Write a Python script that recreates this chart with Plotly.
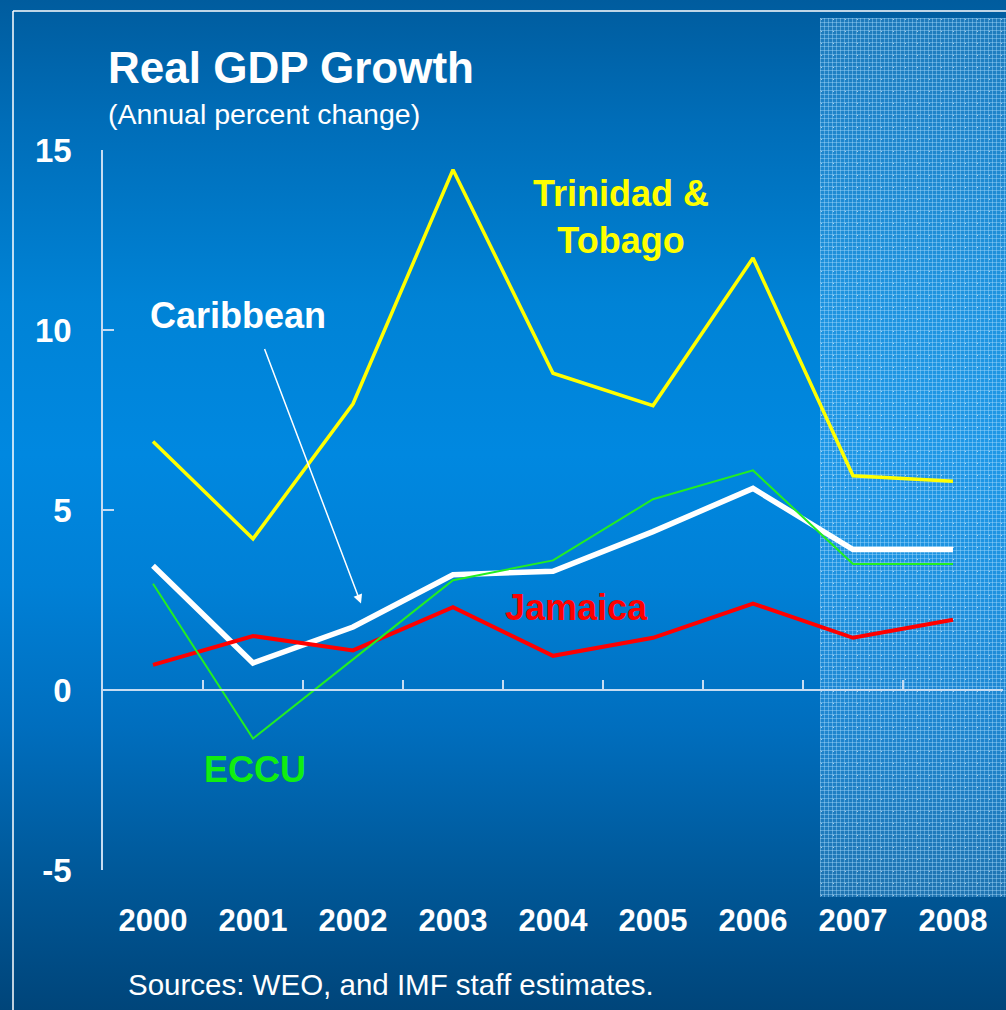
import base64
import plotly.graph_objects as go

# ---- data -------------------------------------------------------------
years = ["2000", "2001", "2002", "2003", "2004", "2005", "2006", "2007", "2008"]
trinidad_tobago = [6.9, 4.2, 7.95, 14.45, 8.8, 7.9, 12.0, 5.95, 5.8]
caribbean = [3.45, 0.75, 1.75, 3.2, 3.3, 4.4, 5.6, 3.9, 3.9]
jamaica = [0.7, 1.5, 1.1, 2.3, 0.95, 1.45, 2.4, 1.45, 1.95]
eccu = [2.95, -1.35, 0.85, 3.05, 3.6, 5.3, 6.1, 3.5, 3.5]
y_ticks = [-5, 0, 5, 10, 15]

W, H = 1006, 1010
FONT = "Liberation Sans, Arial, sans-serif"
AXIS_COLOR = "#c6dcf2"

idx = list(range(len(years)))
boundaries = [i - 0.5 for i in range(len(years) + 1)]


def svg_uri(svg):
    return "data:image/svg+xml;base64," + base64.b64encode(svg.encode()).decode()


# vertical blue gradient for the page background
bg_svg = (
    f'<svg xmlns="http://www.w3.org/2000/svg" width="{W}" height="{H}" '
    f'viewBox="0 0 {W} {H}" preserveAspectRatio="none">'
    '<defs><linearGradient id="g" x1="0" y1="0" x2="0" y2="1">'
    '<stop offset="0" stop-color="#005c9e"/>'
    '<stop offset="0.12" stop-color="#006db8"/>'
    '<stop offset="0.30" stop-color="#0083d6"/>'
    '<stop offset="0.45" stop-color="#0088e0"/>'
    '<stop offset="0.58" stop-color="#0080d6"/>'
    '<stop offset="0.72" stop-color="#006ebe"/>'
    '<stop offset="0.86" stop-color="#00599a"/>'
    '<stop offset="1" stop-color="#00457a"/>'
    '</linearGradient></defs>'
    f'<rect width="{W}" height="{H}" fill="url(#g)"/></svg>'
)

# fine lattice texture marking the projection years
SX0, SY0, SX1, SY1 = 820, 18, W, 897
sw, sh = SX1 - SX0, SY1 - SY0
shade_svg = (
    f'<svg xmlns="http://www.w3.org/2000/svg" width="{sw}" height="{sh}" '
    f'viewBox="0 0 {sw} {sh}" preserveAspectRatio="none">'
    '<defs><pattern id="p" width="4" height="4" patternUnits="userSpaceOnUse">'
    '<rect width="4" height="4" fill="rgb(100,185,245)" fill-opacity="0.30"/>'
    '<rect width="1" height="4" fill="rgb(175,222,255)" fill-opacity="0.40"/>'
    '<rect width="4" height="1" fill="rgb(175,222,255)" fill-opacity="0.40"/>'
    '</pattern>'
    '<pattern id="q" width="12" height="12" patternUnits="userSpaceOnUse">'
    '<rect x="1" y="1" width="1" height="1" fill="#ffffff" fill-opacity="0.6"/>'
    '</pattern></defs>'
    f'<rect width="{sw}" height="{sh}" fill="url(#p)"/>'
    f'<rect width="{sw}" height="{sh}" fill="url(#q)"/></svg>'
)

fig = go.Figure()

series = [
    ("Trinidad & Tobago", trinidad_tobago, "#ffff00", 3.5),
    ("Caribbean", caribbean, "#ffffff", 5.5),
    ("Jamaica", jamaica, "#ff0000", 4),
    ("ECCU", eccu, "#22ee22", 2),
]
for name, vals, color, width in series:
    fig.add_trace(go.Scatter(
        x=idx, y=vals, name=name, mode="lines",
        line=dict(color=color, width=width),
        showlegend=False, hoverinfo="skip",
    ))

# invisible companion trace so the zero-line axis gets drawn
fig.add_trace(go.Scatter(
    x=idx, y=caribbean, xaxis="x2", mode="lines",
    line=dict(width=0), opacity=0, showlegend=False, hoverinfo="skip",
))

px = lambda v: v / W
py = lambda v: 1 - v / H

fig.update_layout(
    template="none",
    width=W, height=H,
    margin=dict(l=0, r=0, t=0, b=0, pad=0, autoexpand=False),
    paper_bgcolor="#0076c4",
    plot_bgcolor="rgba(0,0,0,0)",
    font=dict(family=FONT, color="white"),
    xaxis=dict(
        domain=[px(103), px(1003)], range=[-0.5, 8.5], automargin=False,
        tickvals=idx, ticktext=years,
        showline=False, showgrid=False, zeroline=False, ticks="",
        tickfont=dict(size=31, weight="bold", color="white", family=FONT),
        ticklabelstandoff=29,
    ),
    xaxis2=dict(
        overlaying="x", anchor="free", position=py(690), side="bottom",
        range=[-0.5, 8.5], tickvals=boundaries, showticklabels=False,
        automargin=False,
        showline=True, linecolor=AXIS_COLOR, linewidth=1.5,
        ticks="inside", ticklen=9, tickwidth=1.5, tickcolor=AXIS_COLOR,
        showgrid=False, zeroline=False,
    ),
    yaxis=dict(
        domain=[py(870), py(150)], range=[-5, 15], automargin=False,
        tickvals=y_ticks, ticktext=[str(v) for v in y_ticks],
        showline=True, linecolor=AXIS_COLOR, linewidth=1.5,
        ticks="inside", ticklen=11, tickwidth=1.5, tickcolor=AXIS_COLOR,
        showgrid=False, zeroline=False,
        tickfont=dict(size=33, weight="bold", color="white", family=FONT),
        ticklabelstandoff=23,
    ),
    images=[
        dict(source=svg_uri(bg_svg), xref="paper", yref="paper",
             x=0, y=1, sizex=1, sizey=1, xanchor="left", yanchor="top",
             sizing="stretch", layer="below"),
        dict(source=svg_uri(shade_svg), xref="paper", yref="paper",
             x=px(SX0), y=py(SY0), sizex=sw / W, sizey=sh / H,
             xanchor="left", yanchor="top", sizing="stretch", layer="below"),
    ],
    shapes=[
        dict(type="line", xref="paper", yref="paper",
             x0=px(13), x1=1, y0=py(11), y1=py(11),
             line=dict(color="white", width=1.5)),
        dict(type="line", xref="paper", yref="paper",
             x0=px(13), x1=px(13), y0=0, y1=py(11),
             line=dict(color="white", width=1.5)),
    ],
)

annotations = [
    # headings
    dict(text="Real GDP Growth", xref="paper", yref="paper",
         x=px(106), y=py(67), xanchor="left", yanchor="middle",
         font=dict(size=44, weight="bold", color="white", family=FONT)),
    dict(text="(Annual percent change)", xref="paper", yref="paper",
         x=px(106), y=py(114), xanchor="left", yanchor="middle",
         font=dict(size=28.5, color="white", family=FONT)),
    dict(text="Sources: WEO, and IMF staff estimates.", xref="paper", yref="paper",
         x=px(126), y=py(984), xanchor="left", yanchor="middle",
         font=dict(size=29.5, color="white", family=FONT)),
    # series labels
    dict(text="Trinidad &<br>Tobago", x=4.68, y=13.15, xref="x", yref="y",
         xanchor="center", yanchor="middle", align="center",
         font=dict(size=36, weight="bold", color="#ffff00", family=FONT)),
    dict(text="Caribbean", x=0.845, y=10.4, xref="x", yref="y",
         xanchor="center", yanchor="middle",
         font=dict(size=36, weight="bold", color="white", family=FONT)),
    dict(text="Jamaica", x=4.23, y=2.28, xref="x", yref="y",
         xanchor="center", yanchor="middle",
         font=dict(size=36, weight="bold", color="#ff0000", family=FONT)),
    dict(text="ECCU", x=1.02, y=-2.22, xref="x", yref="y",
         xanchor="center", yanchor="middle",
         font=dict(size=36, weight="bold", color="#11ee11", family=FONT)),
    # pointer from the Caribbean label to its line
    dict(text="", x=2.08, y=2.4, xref="x", yref="y",
         showarrow=True, ax=-97, ay=-256, axref="pixel", ayref="pixel",
         arrowhead=2, arrowsize=1.2, arrowwidth=1.5, arrowcolor="white",
         standoff=0),
]
for a in annotations:
    a.setdefault("showarrow", False)
    fig.add_annotation(**a)

fig.write_html("out.html")
